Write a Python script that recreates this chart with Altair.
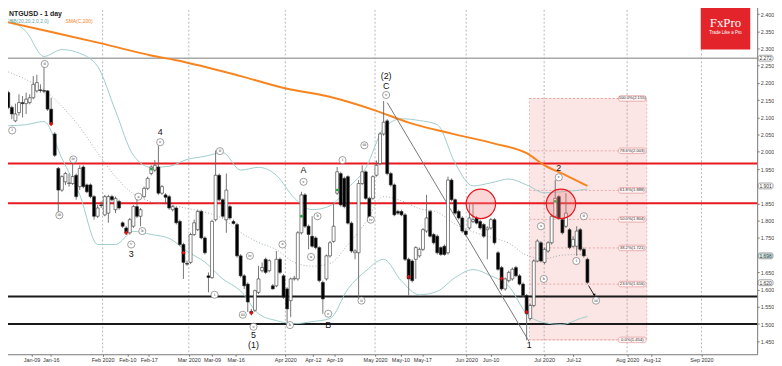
import altair as alt
import pandas as pd

# ---------------- data ----------------
opens = [2.172, 2.129, 2.090, 2.114, 2.143, 2.140, 2.143, 2.157, 2.177, 2.180,
         2.178, 2.177, 2.124, 2.052, 1.952, 1.889, 1.913, 1.908, 1.908, 1.932,
         1.899, 1.956, 1.904, 1.904, 1.870, 1.813, 1.846, 1.817, 1.822, 1.870,
         1.832, 1.856, 1.794, 1.779, 1.765, 1.784, 1.841, 1.813, 1.870, 1.894,
         1.937, 1.947, 1.956, 1.880, 1.875, 1.870, 1.832, 1.837, 1.798, 1.731,
         1.676, 1.679, 1.760, 1.774, 1.827, 1.750, 1.640, 1.635, 1.803, 1.932,
         1.861, 1.803, 1.841, 1.798, 1.789, 1.698, 1.640, 1.616, 1.537, 1.540,
         1.592, 1.655, 1.688, 1.655, 1.611, 1.611, 1.688, 1.640, 1.602, 1.568,
         1.631, 1.631, 1.765, 1.875, 1.784, 1.755, 1.750, 1.722, 1.621, 1.631,
         1.698, 1.740, 1.880, 1.937, 1.923, 1.928, 1.793, 1.707, 1.707, 1.908,
         1.942, 1.865, 1.865, 1.932, 1.966, 2.052, 2.090, 1.937, 1.904, 1.827,
         1.827, 1.817, 1.688, 1.683, 1.688, 1.698, 1.717, 1.770, 1.827, 1.760,
         1.755, 1.722, 1.726, 1.707, 1.918, 1.861, 1.827, 1.808, 1.770, 1.779,
         1.798, 1.808, 1.798, 1.789, 1.774, 1.779, 1.803, 1.707, 1.664, 1.602,
         1.626, 1.631, 1.664, 1.640, 1.616, 1.583, 1.516, 1.554, 1.683, 1.736,
         1.679, 1.712, 1.736, 1.813, 1.870, 1.803, 1.784, 1.774, 1.726, 1.726,
         1.774, 1.717, 1.688]
highs = [2.177, 2.134, 2.140, 2.167, 2.162, 2.172, 2.167, 2.220, 2.224, 2.196,
         2.253, 2.179, 2.157, 2.057, 1.956, 1.932, 1.942, 1.937, 1.966, 1.937,
         1.961, 1.961, 1.908, 1.908, 1.875, 1.846, 1.856, 1.875, 1.875, 1.875,
         1.870, 1.861, 1.798, 1.784, 1.808, 1.846, 1.865, 1.837, 1.899, 1.928,
         1.961, 1.976, 2.019, 1.904, 1.880, 1.875, 1.846, 1.841, 1.803, 1.736,
         1.684, 1.765, 1.803, 1.832, 1.832, 1.755, 1.650, 1.803, 2.004, 1.937,
         1.865, 1.937, 1.846, 1.803, 1.794, 1.703, 1.645, 1.621, 1.544, 1.600,
         1.669, 1.679, 1.693, 1.688, 1.616, 1.712, 1.693, 1.645, 1.607, 1.635,
         1.640, 1.770, 1.884, 1.880, 1.789, 1.813, 1.755, 1.726, 1.626, 1.702,
         1.741, 1.851, 1.956, 1.942, 1.928, 1.932, 1.798, 1.717, 1.918, 1.961,
         1.946, 1.870, 1.932, 1.975, 2.057, 2.148, 2.095, 1.942, 1.908, 1.832,
         1.832, 1.822, 1.693, 1.688, 1.726, 1.722, 1.779, 1.875, 1.832, 1.765,
         1.760, 1.726, 1.731, 1.928, 1.923, 1.865, 1.832, 1.813, 1.774, 1.851,
         1.851, 1.813, 1.803, 1.793, 1.784, 1.808, 1.808, 1.712, 1.669, 1.635,
         1.655, 1.664, 1.669, 1.645, 1.621, 1.587, 1.559, 1.688, 1.746, 1.741,
         1.722, 1.741, 1.817, 1.918, 1.875, 1.808, 1.880, 1.779, 1.755, 1.784,
         1.779, 1.722, 1.693]
lows = [2.124, 2.095, 2.086, 2.105, 2.100, 2.110, 2.138, 2.153, 2.172, 2.172,
        2.170, 2.119, 2.076, 1.985, 1.822, 1.884, 1.904, 1.899, 1.904, 1.861,
        1.889, 1.894, 1.880, 1.865, 1.803, 1.808, 1.837, 1.813, 1.794, 1.856,
        1.822, 1.832, 1.779, 1.760, 1.760, 1.779, 1.808, 1.784, 1.865, 1.889,
        1.932, 1.942, 1.875, 1.875, 1.851, 1.832, 1.827, 1.789, 1.726, 1.631,
        1.669, 1.674, 1.755, 1.770, 1.746, 1.702, 1.592, 1.631, 1.798, 1.856,
        1.808, 1.765, 1.803, 1.789, 1.693, 1.635, 1.602, 1.535, 1.525, 1.535,
        1.587, 1.650, 1.645, 1.650, 1.600, 1.607, 1.645, 1.573, 1.506, 1.520,
        1.626, 1.626, 1.760, 1.779, 1.717, 1.722, 1.717, 1.621, 1.530, 1.626,
        1.693, 1.736, 1.875, 1.841, 1.836, 1.789, 1.707, 1.688, 1.568, 1.904,
        1.861, 1.793, 1.861, 1.928, 1.961, 2.047, 1.932, 1.899, 1.813, 1.817,
        1.813, 1.683, 1.583, 1.621, 1.631, 1.693, 1.712, 1.765, 1.751, 1.731,
        1.702, 1.698, 1.698, 1.702, 1.856, 1.817, 1.803, 1.765, 1.755, 1.774,
        1.793, 1.789, 1.774, 1.750, 1.688, 1.774, 1.731, 1.655, 1.597, 1.597,
        1.621, 1.626, 1.636, 1.612, 1.578, 1.453, 1.511, 1.549, 1.679, 1.679,
        1.674, 1.707, 1.731, 1.808, 1.803, 1.760, 1.779, 1.717, 1.722, 1.698,
        1.712, 1.693, 1.616]
closes = [2.129, 2.110, 2.110, 2.143, 2.140, 2.153, 2.157, 2.196, 2.201, 2.178,
          2.176, 2.124, 2.081, 1.990, 1.889, 1.928, 1.937, 1.910, 1.928, 1.870,
          1.952, 1.899, 1.884, 1.870, 1.813, 1.837, 1.844, 1.870, 1.870, 1.861,
          1.865, 1.837, 1.784, 1.765, 1.803, 1.841, 1.813, 1.832, 1.894, 1.923,
          1.956, 1.961, 1.880, 1.899, 1.868, 1.837, 1.841, 1.794, 1.731, 1.679,
          1.674, 1.760, 1.794, 1.827, 1.750, 1.707, 1.635, 1.798, 1.932, 1.861,
          1.813, 1.889, 1.808, 1.792, 1.698, 1.640, 1.611, 1.564, 1.532, 1.597,
          1.631, 1.664, 1.650, 1.684, 1.602, 1.688, 1.650, 1.578, 1.544, 1.631,
          1.633, 1.765, 1.875, 1.784, 1.760, 1.726, 1.722, 1.626, 1.573, 1.698,
          1.736, 1.784, 1.942, 1.846, 1.841, 1.793, 1.712, 1.712, 1.908, 1.942,
          1.865, 1.798, 1.928, 1.961, 2.052, 2.086, 1.937, 1.904, 1.817, 1.822,
          1.817, 1.688, 1.631, 1.626, 1.722, 1.717, 1.774, 1.808, 1.755, 1.736,
          1.707, 1.702, 1.702, 1.918, 1.861, 1.822, 1.808, 1.770, 1.760, 1.808,
          1.803, 1.793, 1.779, 1.755, 1.779, 1.803, 1.736, 1.659, 1.602, 1.631,
          1.650, 1.659, 1.640, 1.616, 1.583, 1.530, 1.554, 1.683, 1.741, 1.683,
          1.717, 1.736, 1.813, 1.865, 1.808, 1.765, 1.822, 1.722, 1.746, 1.770,
          1.717, 1.698, 1.621]

# 200-period SMA (candle index, price)
sma_k = [-0.9, 13, 26, 40, 47, 65, 78, 89, 103, 112, 124, 136, 145, 150, 156, 162]
sma_v = [2.378, 2.346, 2.315, 2.280, 2.266, 2.220, 2.183, 2.162, 2.119, 2.085,
         2.053, 2.024, 1.996, 1.961, 1.932, 1.901]

# Bollinger bands sampled every 5 candles
bb_k = [0, 5, 10, 15, 20, 25, 30, 35, 40, 45, 50, 55, 60, 65, 70, 75, 80, 85, 90,
        95, 100, 105, 110, 115, 120, 125, 130, 135, 140, 145, 150, 155, 160, 162]
bb_up = [2.384, 2.349, 2.277, 2.297, 2.286, 2.248, 2.119, 1.990, 1.955, 1.958,
         1.978, 1.987, 1.998, 1.947, 1.955, 1.932, 1.866, 1.832, 1.843, 1.895,
         1.953, 2.068, 2.096, 2.091, 2.079, 1.967, 1.901, 1.910, 1.921, 1.904,
         1.881, 1.884, 1.889, 1.892]
bb_lo = [2.076, 2.079, 2.088, 1.981, 1.875, 1.731, 1.731, 1.769, 1.760, 1.749,
         1.711, 1.680, 1.631, 1.596, 1.530, 1.510, 1.501, 1.507, 1.516, 1.602,
         1.654, 1.688, 1.625, 1.585, 1.595, 1.635, 1.658, 1.640, 1.610, 1.530,
         1.504, 1.499, 1.516, 1.522]
bb_mid = [2.232, 2.210, 2.180, 2.132, 2.072, 1.997, 1.928, 1.878, 1.855, 1.846,
          1.836, 1.825, 1.806, 1.766, 1.737, 1.716, 1.679, 1.668, 1.676, 1.730,
          1.795, 1.870, 1.858, 1.835, 1.825, 1.790, 1.768, 1.752, 1.735, 1.700,
          1.690, 1.700, 1.702, 1.698]

# horizontal levels
red_levels = [1.966, 1.851]
black_levels = [1.580, 1.500]
gray_levels = [2.272]

# Fibonacci box
fib_k0, fib_k1 = 145.8, 178.6
fib_levels = [2.155, 2.003, 1.888, 1.804, 1.721, 1.616, 1.454]
fib_text = ["100.0%(2.155)", "78.6%(2.003)", "61.8%(1.888)", "50.0%(1.804)",
            "38.2%(1.721)", "23.6%(1.616)", "0.0%(1.454)"]

# x axis ticks (candle index) and labels
tick_k = [6.5, 11.9, 26.4, 33.3, 39.3, 50.5, 57.0, 63.6, 77.5, 85.2, 91.2, 102.6,
          109.7, 115.8, 128.1, 134.9, 149.9, 158.1, 173.1, 180.0, 193.9]
tick_lab = ["Jan-09", "Jan-16", "Feb 2020", "Feb-10", "Feb-17", "Mar 2020", "Mar-09",
            "Mar-16", "Apr 2020", "Apr-12", "Apr-19", "May 2020", "May-10", "May-17",
            "Jun 2020", "Jun-10", "Jul 2020", "Jul-12", "Aug 2020", "Aug-12", "Sep 2020"]
month_k = [-0.4, 26.4, 50.5, 77.5, 102.6, 128.1, 149.9, 173.1, 193.9]

# right axis labels (1.900 and 1.700 are hidden under the boxed labels)
y_ticks = [1.45, 1.50, 1.55, 1.60, 1.65, 1.75, 1.80, 1.85, 1.95, 2.00,
           2.05, 2.10, 2.15, 2.20, 2.25, 2.30, 2.35, 2.40]

# wave labels
sub_txt = ["i", "ii", "iii", "iv", "v", "a", "b", "c", "i", "ii", "iii", "iv", "v",
           "a", "b", "c", "a", "b", "c", "i", "ii", "iii", "iv", "v", "a", "b", "c",
           "i", "ii", "iii"]
sub_k = [1.1, 10.2, 14.3, 18.2, 34.4, 36.4, 37.5, 42.5, 57.7, 59.2, 65.6, 67.6, 68.6,
         76.7, 78.8, 82.6, 84.7, 86.5, 89.5, 93.5, 98.8, 99.6, 101.4, 105.7, 149.0,
         149.8, 154.0, 158.9, 161.0, 164.4]
sub_v = [2.062, 2.255, 1.816, 1.978, 1.731, 1.870, 1.770, 2.028, 1.585, 2.002, 1.527,
         1.698, 1.492, 1.731, 1.497, 1.913, 1.695, 1.813, 1.530, 1.976, 1.568, 2.019,
         1.803, 2.165, 1.784, 1.631, 1.926, 1.683, 1.813, 1.568]
big_txt = ["4", "3", "5", "(1)", "A", "B", "(2)", "C", "1", "2"]
big_k = [42.5, 34.4, 68.6, 68.6, 82.6, 89.5, 105.7, 105.7, 145.7, 154.0]
big_v = [2.058, 1.703, 1.468, 1.439, 1.947, 1.498, 2.220, 2.191, 1.439, 1.952]

red_x_k = [12, 33, 49, 68, 112, 138, 145]
red_x_v = [2.081, 1.765, 1.707, 1.532, 1.637, 1.632, 1.535]
green_k = [40, 82, 92, 153]
green_v = [1.950, 1.813, 1.889, 1.856]

circle_k = [132.2, 154.6]
circle_v = [1.849, 1.849]

diag_k = [106.0, 145.7]
diag_v = [2.143, 1.449]

# arrow from the last candle toward the (iii) target
arrow_k = [162.3, 163.9]
arrow_v = [1.612, 1.584]

box_vals = [2.272, 1.901, 1.698, 1.620]
box_txt = ["2.272", "1.901", "1.698", "1.620"]
box_fill = ["#ffffff", "#ffffff", "#cfe6e6", "#ffffff"]

# ---------------- layout ----------------
OFF = 8                       # page margin
W, H = 765 - OFF, 356 - OFF   # plot area inside the page
XS = alt.Scale(domain=[-0.9, 208.1], range=[-OFF, W], nice=False, zero=False)
YS = alt.Scale(domain=[1.4123, 2.4353], range=[H, -OFF], nice=False, zero=False)

label_expr = ("[" + ",".join("'%s'" % s for s in tick_lab) + "][indexof(["
              + ",".join(str(v) for v in tick_k) + "], datum.value)]")
XAX = alt.Axis(values=tick_k, labelExpr=label_expr, title=None, grid=False,
               labelFontSize=5.5, labelColor="#333", tickSize=2, tickColor="#777",
               domainColor="#777", labelPadding=1, labelFont="Liberation Sans",
               labelOverlap=False)
YAX = alt.Axis(orient="right", values=y_ticks, format=".3f", title=None, grid=False,
               labelFontSize=5.5, labelColor="#444", tickSize=2, tickColor="#777",
               domainColor="#777", labelPadding=1, labelFont="Liberation Sans",
               labelOverlap=False)


def X(f):
    return alt.X(f, type="quantitative", scale=XS, axis=XAX)


def Y(f):
    return alt.Y(f, type="quantitative", scale=YS, axis=YAX)


def px(v):
    return v - OFF


n = min(len(opens), len(highs), len(lows), len(closes))
cdf = pd.DataFrame({"k": list(range(n)), "o": opens[:n], "h": highs[:n],
                    "l": lows[:n], "c": closes[:n]})

one = pd.DataFrame({"a": [0]})

layers = []

# fib box
fib_box = pd.DataFrame({"k": [fib_k0], "k2": [fib_k1], "v": [fib_levels[0]], "v2": [fib_levels[-1]]})
layers.append(alt.Chart(fib_box).mark_rect(fill="#f9dcdc", fillOpacity=0.75, stroke="#ee9c9c",
                                           strokeDash=[2, 2], strokeWidth=0.7)
              .encode(x=X("k"), x2="k2", y=Y("v"), y2="v2"))
fdf = pd.DataFrame({"k": [fib_k0] * len(fib_levels), "k2": [fib_k1] * len(fib_levels),
                    "v": fib_levels, "t": fib_text,
                    "kb": [fib_k1 - 7.9] * len(fib_levels), "kb2": [fib_k1 - 0.2] * len(fib_levels),
                    "kt": [fib_k1 - 4.05] * len(fib_levels)})
fdf["vt"] = fdf["v"] + 0.008
fdf["vb"] = fdf["v"] - 0.008
layers.append(alt.Chart(fdf).mark_rule(color="#e79a9a", strokeDash=[2, 2], strokeWidth=0.8)
              .encode(x=X("k"), x2="k2", y=Y("v")))

# month dashed lines
layers.append(alt.Chart(pd.DataFrame({"k": month_k})).mark_rule(color="#9a9a9a", strokeDash=[2, 2],
                                                                  strokeWidth=0.7)
              .encode(x=X("k")))

# horizontal levels
layers.append(alt.Chart(pd.DataFrame({"v": gray_levels})).mark_rule(color="#a8a8a8", strokeWidth=1.5)
              .encode(y=Y("v")))
layers.append(alt.Chart(pd.DataFrame({"v": red_levels})).mark_rule(color="#e8191f", strokeWidth=2)
              .encode(y=Y("v")))
layers.append(alt.Chart(pd.DataFrame({"v": black_levels})).mark_rule(color="#1a1a1a", strokeWidth=2)
              .encode(y=Y("v")))

# Bollinger bands
bdf = pd.DataFrame({"k": bb_k, "up": bb_up, "lo": bb_lo, "mid": bb_mid})
layers.append(alt.Chart(bdf).mark_line(color="#9fcccc", strokeWidth=1, interpolate="monotone")
              .encode(x=X("k"), y=Y("up")))
layers.append(alt.Chart(bdf).mark_line(color="#9fcccc", strokeWidth=1, interpolate="monotone")
              .encode(x=X("k"), y=Y("lo")))
layers.append(alt.Chart(bdf).mark_line(color="#8a9a9a", strokeWidth=0.8, strokeDash=[1, 2],
                                       interpolate="monotone")
              .encode(x=X("k"), y=Y("mid")))

# SMA 200
layers.append(alt.Chart(pd.DataFrame({"k": sma_k, "v": sma_v}))
              .mark_line(color="#f7841f", strokeWidth=2, interpolate="monotone")
              .encode(x=X("k"), y=Y("v")))

# diagonal trend line
layers.append(alt.Chart(pd.DataFrame({"k": diag_k, "v": diag_v}))
              .mark_line(color="#777777", strokeWidth=1)
              .encode(x=X("k"), y=Y("v")))

# candles
layers.append(alt.Chart(cdf).mark_rule(color="#666666", strokeWidth=0.9)
              .encode(x=X("k"), y=Y("l"), y2="h"))
layers.append(alt.Chart(cdf).mark_bar(size=3, stroke="#333333", strokeWidth=0.6)
              .encode(x=X("k"), y=Y("o"), y2="c",
                      fill=alt.condition("datum.c < datum.o", alt.value("#000000"),
                                         alt.value("#ffffff"))))

# arrow to the (iii) target
adf = pd.DataFrame({"k": arrow_k, "v": arrow_v})
layers.append(alt.Chart(adf).mark_line(color="#111111", strokeWidth=0.9)
              .encode(x=X("k"), y=Y("v")))
layers.append(alt.Chart(adf.tail(1)).mark_point(shape="triangle-down", size=10, filled=True,
                                                color="#111111", opacity=1)
              .encode(x=X("k"), y=Y("v")))

# markers
layers.append(alt.Chart(pd.DataFrame({"k": red_x_k, "v": red_x_v}))
              .mark_point(shape="cross", size=14, filled=True, color="#e01010", opacity=1)
              .encode(x=X("k"), y=Y("v")))
layers.append(alt.Chart(pd.DataFrame({"k": green_k, "v": green_v}))
              .mark_point(shape="circle", size=8, filled=True, color="#1faa3a", opacity=1)
              .encode(x=X("k"), y=Y("v")))

# red circles
layers.append(alt.Chart(pd.DataFrame({"k": circle_k, "v": circle_v}))
              .mark_point(shape="circle", size=880, filled=True, fill="#f08a8a", fillOpacity=0.35,
                          stroke="#e8191f", strokeWidth=1.2, strokeOpacity=1, opacity=1)
              .encode(x=X("k"), y=Y("v")))

# wave labels
sdf = pd.DataFrame({"k": sub_k, "v": sub_v, "t": sub_txt})
layers.append(alt.Chart(sdf).mark_point(shape="circle", size=52, filled=True, fill="#ffffff",
                                        stroke="#777777", strokeWidth=0.7, opacity=1)
              .encode(x=X("k"), y=Y("v")))
layers.append(alt.Chart(sdf).mark_text(fontSize=4.5, color="#333333", font="Liberation Serif",
                                       baseline="middle", align="center")
              .encode(x=X("k"), y=Y("v"), text="t"))
layers.append(alt.Chart(pd.DataFrame({"k": big_k, "v": big_v, "t": big_txt}))
              .mark_text(fontSize=9, color="#111111", font="Liberation Sans",
                         baseline="middle", align="center")
              .encode(x=X("k"), y=Y("v"), text="t"))

# fib labels
layers.append(alt.Chart(fdf).mark_rect(fill="#fff4f4", stroke="#e08888", strokeWidth=0.6,
                                       cornerRadius=2)
              .encode(x=X("kb"), x2="kb2", y=Y("vt"), y2="vb"))
layers.append(alt.Chart(fdf).mark_text(fontSize=4.2, color="#333333", font="Liberation Sans",
                                       baseline="middle", align="center")
              .encode(x=X("kt"), y=Y("v"), text="t"))

# boxed price labels at the right axis
bxd = pd.DataFrame({"v": box_vals, "t": box_txt, "f": box_fill})
bxd["vt"] = bxd["v"] + 0.0085
bxd["vb"] = bxd["v"] - 0.0085
layers.append(alt.Chart(bxd).mark_rect(stroke="#666666", strokeWidth=0.6, cornerRadius=2)
              .encode(x=alt.value(px(766)), x2=alt.value(px(781)), y=Y("vt"), y2="vb",
                      fill=alt.Fill("f:N", scale=None)))
layers.append(alt.Chart(bxd).mark_text(fontSize=5, color="#333333", font="Liberation Sans",
                                       baseline="middle", align="center")
              .encode(x=alt.value(px(773.5)), y=Y("v"), text="t"))

# title and legend
layers.append(alt.Chart(one).mark_text(text="NTGUSD - 1 day", fontSize=7, fontWeight="bold",
                                       color="#222222", font="Liberation Sans",
                                       align="left", baseline="middle")
              .encode(x=alt.value(px(9)), y=alt.value(px(12))))
layers.append(alt.Chart(one).mark_text(text="BB(20,20,2,0,2,0)", fontSize=5, color="#5fa8a8",
                                       font="Liberation Sans", align="left", baseline="middle")
              .encode(x=alt.value(px(10)), y=alt.value(px(19))))
layers.append(alt.Chart(one).mark_text(text="SMA(C,200)", fontSize=5, color="#f7841f",
                                       font="Liberation Sans", align="left", baseline="middle")
              .encode(x=alt.value(px(66)), y=alt.value(px(19))))

# FxPro logo
layers.append(alt.Chart(one).mark_rect(fill="#e4242b")
              .encode(x=alt.value(px(708)), x2=alt.value(px(758)),
                      y=alt.value(px(0)), y2=alt.value(px(48))))
layers.append(alt.Chart(one).mark_text(text="FxPro", fontSize=13, color="#ffffff",
                                       font="Liberation Serif", align="center", baseline="middle")
              .encode(x=alt.value(px(733)), y=alt.value(px(21))))
layers.append(alt.Chart(one).mark_text(text="Trade Like a Pro", fontSize=4.5, color="#ffffff",
                                       font="Liberation Sans", align="center", baseline="middle")
              .encode(x=alt.value(px(733)), y=alt.value(px(31))))

chart = (alt.layer(*layers)
         .properties(width=W, height=H, padding={"left": 0, "top": 0, "right": 17, "bottom": 10},
                     autosize=alt.AutoSizeParams(type="none"), background="#ffffff")
         .configure_view(stroke=None))

chart.save("out.html", embed_options={"renderer": "svg", "actions": False})
